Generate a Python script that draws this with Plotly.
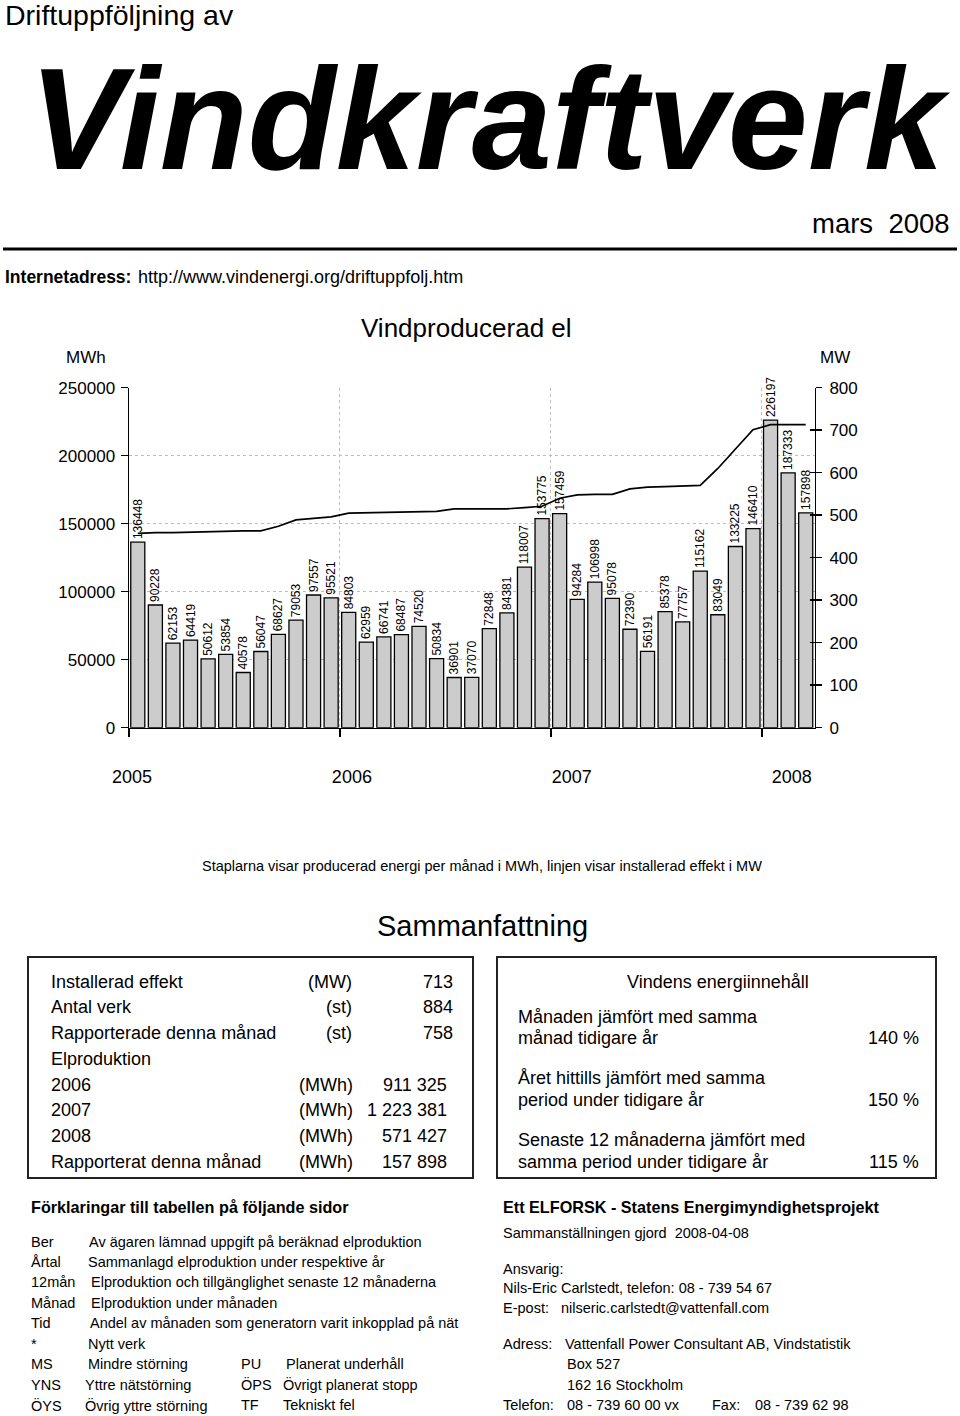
import plotly.graph_objects as go

# ---------------- data ----------------
months = ["2005-01", "2005-02", "2005-03", "2005-04", "2005-05", "2005-06",
          "2005-07", "2005-08", "2005-09", "2005-10", "2005-11", "2005-12",
          "2006-01", "2006-02", "2006-03", "2006-04", "2006-05", "2006-06",
          "2006-07", "2006-08", "2006-09", "2006-10", "2006-11", "2006-12",
          "2007-01", "2007-02", "2007-03", "2007-04", "2007-05", "2007-06",
          "2007-07", "2007-08", "2007-09", "2007-10", "2007-11", "2007-12",
          "2008-01", "2008-02", "2008-03"]

energy_mwh = [136448, 90228, 62153, 64419, 50612, 53854, 40578, 56047, 68627, 79053, 97557, 95521,
              84803, 62959, 66741, 68487, 74520, 50834, 36901, 37070, 72848, 84381, 118007, 153775,
              157459, 94284, 106998, 95078, 72390, 56191, 85378, 77757, 115162, 83049, 133225, 146410,
              226197, 187333, 157898]

installed_mw = [457, 459, 459, 460, 462, 463, 463, 463, 474, 489, 492, 496,
                505, 506, 506, 508, 509, 509, 515, 515, 515, 515, 518, 521,
                540, 548, 549, 549, 562, 566, 567, 568, 570, 610, 655, 701,
                713, 713, 713]

years = ["2005", "2006", "2007", "2008"]
left_ticks = [0, 50000, 100000, 150000, 200000, 250000]
right_ticks = [0, 100, 200, 300, 400, 500, 600, 700, 800]

summary_rows = [
    ("Installerad effekt", "(MW)", "713"),
    ("Antal verk", "(st)", "884"),
    ("Rapporterade denna månad", "(st)", "758"),
    ("Elproduktion", "", ""),
    ("2006", "(MWh)", "911 325"),
    ("2007", "(MWh)", "1 223 381"),
    ("2008", "(MWh)", "571 427"),
    ("Rapporterat denna månad", "(MWh)", "157 898"),
]

wind_rows = [
    ("Månaden jämfört med samma", "månad tidigare år", "140 %"),
    ("Året hittills jämfört med samma", "period under tidigare år", "150 %"),
    ("Senaste 12 månaderna jämfört med", "samma period under tidigare år", "115 %"),
]

legend_rows = [
    ("Ber", "Av ägaren lämnad uppgift på beräknad elproduktion"),
    ("Årtal", "Sammanlagd elproduktion under respektive år"),
    ("12mån", "Elproduktion och tillgänglighet senaste 12 månaderna"),
    ("Månad", "Elproduktion under månaden"),
    ("Tid", "Andel av månaden som generatorn varit inkopplad på nät"),
    ("*", "Nytt verk"),
]
legend_pairs = [
    ("MS", "Mindre störning", "PU", "Planerat underhåll"),
    ("YNS", "Yttre nätstörning", "ÖPS", "Övrigt planerat stopp"),
    ("ÖYS", "Övrig yttre störning", "TF", "Tekniskt fel"),
]

# ---------------- layout helpers ----------------
# the figure fills the whole 960x1416 page (body margin removed after drawing)
W, H = 960, 1416
FONT = "Liberation Sans, Arial, Helvetica, sans-serif"


def px(x):
    return x / W


def py(y):
    return 1 - y / H


annotations = []


def ann(text, x, y, size, xanchor="left", yanchor="middle", color="black"):
    annotations.append(dict(text=text, x=px(x), y=py(y), xref="paper", yref="paper",
                            xanchor=xanchor, yanchor=yanchor, showarrow=False,
                            font=dict(family=FONT, size=size, color=color)))


xs = list(range(len(months)))

fig = go.Figure()
fig.add_trace(go.Bar(
    x=xs, y=energy_mwh, text=[str(v) for v in energy_mwh],
    textposition="outside", textangle=-90, constraintext="none", cliponaxis=False,
    textfont=dict(family=FONT, size=12, color="black"),
    marker=dict(color="#cccccc", line=dict(color="black", width=1.3)),
    width=0.8, hoverinfo="skip", showlegend=False, xaxis="x", yaxis="y"))

fig.add_trace(go.Scatter(
    x=xs, y=installed_mw, mode="lines", line=dict(color="black", width=1.7),
    showlegend=False, hoverinfo="skip", xaxis="x", yaxis="y2"))

xdom = [px(129), px(814.5)]
ydom = [py(727.7), py(387.7)]

n = len(months)
year_bounds = [i * 12 - 0.5 for i in range(len(years))]
year_label_pos = [-0.33 + i * 12.51 for i in range(len(years))]

fig.update_layout(
    width=W, height=H, autosize=False,
    margin=dict(l=0, r=0, t=0, b=0, pad=0, autoexpand=False),
    paper_bgcolor="white", plot_bgcolor="white",
    font=dict(family=FONT, color="black"),
    bargap=0.18, showlegend=False,
    xaxis=dict(domain=xdom, range=[-0.5, n - 0.5], tickmode="array", tickvals=year_bounds,
               showticklabels=False, ticks="outside", ticklen=8, tickwidth=1.5, tickcolor="black",
               showline=True, linecolor="black", linewidth=1.5,
               showgrid=True, gridcolor="#bdbdbd", griddash="dot", gridwidth=1,
               zeroline=False, fixedrange=True, anchor="y", automargin=False),
    xaxis2=dict(domain=xdom, range=[-0.5, n - 0.5], overlaying="x", anchor="free",
                position=py(764), tickmode="array", tickvals=year_label_pos, ticktext=years,
                ticks="", showline=False, showgrid=False, zeroline=False, automargin=False,
                tickfont=dict(family=FONT, size=18, color="black"), fixedrange=True),
    yaxis=dict(domain=ydom, range=[0, 250000], tickmode="array", tickvals=left_ticks,
               tickformat="d", ticks="outside", ticklen=7, tickwidth=1.5, tickcolor="black",
               showline=True, linecolor="black", linewidth=1.5,
               showgrid=True, gridcolor="#bdbdbd", griddash="dot", gridwidth=1,
               zeroline=False, ticklabelstandoff=2, automargin=False,
               tickfont=dict(family=FONT, size=17, color="black"), fixedrange=True, anchor="x"),
    yaxis2=dict(domain=ydom, range=[0, 800], overlaying="y", side="right", anchor="x",
                tickmode="array", tickvals=right_ticks, ticks="outside", ticklen=6, tickwidth=1.5,
                tickcolor="black", showline=True, linecolor="black", linewidth=1.5,
                showgrid=False, zeroline=False, ticklabelstandoff=4, automargin=False,
                tickfont=dict(family=FONT, size=17, color="black"), fixedrange=True),
    yaxis3=dict(domain=ydom, range=[0, 800], overlaying="y", side="right", anchor="x",
                tickmode="array", tickvals=right_ticks, ticks="inside", ticklen=5, tickwidth=1.5,
                tickcolor="black", showline=False, showgrid=False, zeroline=False,
                showticklabels=False, fixedrange=True, automargin=False),
)

# empty helper traces so that the overlay axes are drawn
fig.add_trace(go.Scatter(x=[None], y=[None], xaxis="x", yaxis="y3", showlegend=False, hoverinfo="skip"))
fig.add_trace(go.Scatter(x=[None], y=[None], xaxis="x2", yaxis="y", showlegend=False, hoverinfo="skip"))

# ---------------- page texts ----------------
ann("Driftuppföljning av", 3, 15, 28.5)
ann("<b><i>Vindkraftverk</i></b>", 27, 119.5, 144)
ann("mars  2008", 952, 223, 27.5, xanchor="right")
ann("<b>Internetadress:</b>", 3, 277, 17.5)
ann("http://www.vindenergi.org/driftuppfolj.htm", 136, 277, 18)

ann("Vindproducerad el", 466, 328, 26, xanchor="center")
ann("MWh", 86, 358, 17, xanchor="center")
ann("MW", 835, 358, 17, xanchor="center")

ann("Staplarna visar producerad energi per månad i MWh, linjen visar installerad effekt i MW",
    482, 866, 14.5, xanchor="center")
ann("Sammanfattning", 482, 926, 29, xanchor="center")

row_y = [981.7, 1007.4, 1033.1, 1058.8, 1084.5, 1110.2, 1135.9, 1161.6]
for (lab, unit, val), yy in zip(summary_rows, row_y):
    ann(lab, 49, yy, 18)
    if unit:
        ann(unit, 355 if unit == "(MWh)" else 354, yy, 18, xanchor="right")
    if val:
        ann(val, 455 if unit != "(MWh)" else 449, yy, 18, xanchor="right")

ann("Vindens energiinnehåll", 718, 981.7, 18, xanchor="center")
wind_y = [(1016.7, 1038.3), (1078.3, 1100), (1140, 1161.7)]
for (l1, l2, pct), (y1, y2) in zip(wind_rows, wind_y):
    ann(l1, 516, y1, 18)
    ann(l2, 516, y2, 18)
    ann(pct, 921, y2, 18, xanchor="right")

ann("<b>Förklaringar till tabellen på följande sidor</b>", 29, 1207, 16.2)
leg_y = [1241.7, 1261.5, 1282, 1302.7, 1323.3, 1343.5]
leg_x = [87, 86, 89, 89, 88, 86]
for (k, d), yy, dx in zip(legend_rows, leg_y, leg_x):
    ann(k, 29, yy, 14.5)
    ann(d, dx, yy, 14.5)
pair_y = [1364, 1384.5, 1405]
pair_dx = [86, 83, 83]
for (k1, d1, k2, d2), yy, dx in zip(legend_pairs, pair_y, pair_dx):
    ann(k1, 29, yy, 14.5)
    ann(d1, dx, yy, 14.5)
    ann(k2, 239, yy, 14.5)
    ann(d2, 284 if k2 == "PU" else 281, yy, 14.5)

ann("<b>Ett ELFORSK - Statens Energimyndighetsprojekt</b>", 501, 1207, 16.2)
ann("Sammanställningen gjord  2008-04-08", 501, 1233, 14.5)
ann("Ansvarig:", 501, 1268.5, 14.5)
ann("Nils-Eric Carlstedt, telefon: 08 - 739 54 67", 501, 1288, 14.5)
ann("E-post:", 501, 1307.5, 14.5)
ann("nilseric.carlstedt@vattenfall.com", 559, 1307.5, 14.5)
ann("Adress:", 501, 1344, 14.5)
ann("Vattenfall Power Consultant AB, Vindstatistik", 563, 1344, 14.5)
ann("Box 527", 565, 1364, 14.5)
ann("162 16 Stockholm", 565, 1384.5, 14.5)
ann("Telefon:", 501, 1405, 14.5)
ann("08 - 739 60 00 vx", 565, 1405, 14.5)
ann("Fax:", 710, 1405, 14.5)
ann("08 - 739 62 98", 753, 1405, 14.5)

shapes = [
    dict(type="line", xref="paper", yref="paper", x0=px(3), x1=px(957), y0=py(249), y1=py(249),
         line=dict(color="black", width=3)),
    dict(type="rect", xref="paper", yref="paper", x0=px(28), x1=px(473), y0=py(957), y1=py(1178),
         line=dict(color="#222222", width=2)),
    dict(type="rect", xref="paper", yref="paper", x0=px(497), x1=px(936), y0=py(957), y1=py(1178),
         line=dict(color="#222222", width=2)),
]

fig.update_layout(annotations=annotations, shapes=shapes)

fig.write_html("out.html", config={"displayModeBar": False, "staticPlot": True},
               post_script="document.body.style.margin='0';document.body.style.overflow='hidden';")
